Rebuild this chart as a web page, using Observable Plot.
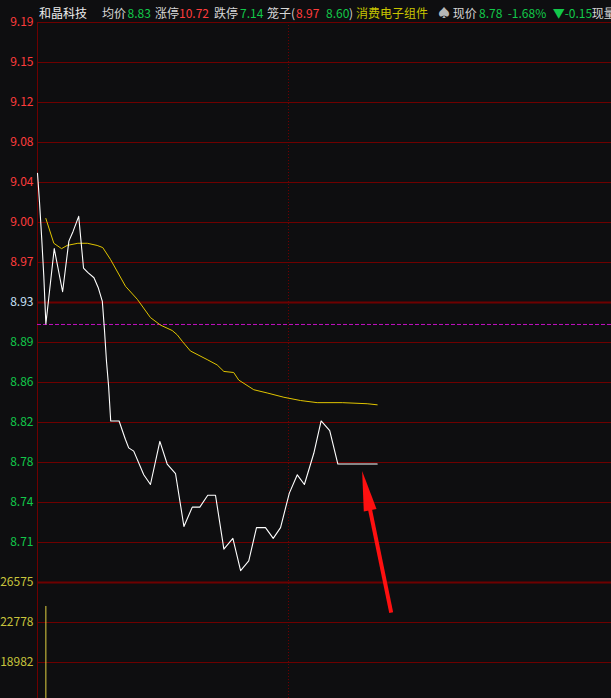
<!DOCTYPE html>
<html><head><meta charset="utf-8">
<script src="https://cdn.jsdelivr.net/npm/d3@7"></script>
<script src="https://cdn.jsdelivr.net/npm/@observablehq/plot@0.6"></script>
<style>
html,body{margin:0;padding:0;background:#0e0e10;}
#wrap{position:relative;width:611px;height:698px;overflow:hidden;background:#0e0e10;font-family:"Noto Sans CJK SC","Noto Sans",sans-serif;}
#wrap svg{position:absolute;left:0;top:0;}
#hdr{position:absolute;left:0;top:0;width:611px;height:23px;font-size:12px;white-space:nowrap;z-index:5;}
#hdr span{position:absolute;top:4px;line-height:17px;}
</style></head><body><div id="wrap"><div id="hdr"></div></div>
<script>
// ---------- data ----------
const prevClose = 8.93;
const priceTickLabels = ["9.19","9.15","9.12","9.08","9.04","9.00","8.97","8.93","8.89","8.86","8.82","8.78","8.74","8.71"];
const volumeTicks = [26575, 22778, 18982];

// minute index (0 = 9:30, 120 = 11:30/13:00) and price
const priceMinutes = [0,1,2,3,4,8,12,15,17,19.7,22,24,27,29,31,32,33,34,35,39,42,43.6,46,50.8,54,58.5,62,66,70,74,77.6,81.4,85.1,89.1,93.4,97.1,101,104.7,109,112.7,116.2,120.4,124.2,127.6,132.1,135.6,139.7,143.6,162.4];
const priceValues  = [9.050,9.022,8.990,8.955,8.910,8.980,8.940,8.987,8.996,9.010,8.962,8.958,8.953,8.944,8.931,8.905,8.875,8.852,8.820,8.820,8.803,8.795,8.792,8.770,8.761,8.801,8.780,8.771,8.722,8.740,8.740,8.751,8.751,8.701,8.711,8.681,8.690,8.721,8.721,8.711,8.721,8.753,8.770,8.761,8.790,8.820,8.811,8.780,8.780];

// average price (yellow)
const avgMinutes = [4,7.8,11.5,14.2,19.3,23.8,28.5,31.2,34.9,42.1,47.7,54,58.8,64.4,66.8,69.2,73.1,81.1,85.9,89.1,93.8,96.2,103.4,109.8,117.8,125.7,133.7,145.7,157.6,162.4];
const avgValues  = [9.008,8.985,8.980,8.983,8.985,8.985,8.983,8.981,8.970,8.945,8.933,8.916,8.909,8.904,8.900,8.894,8.885,8.877,8.872,8.866,8.865,8.858,8.849,8.846,8.842,8.839,8.837,8.837,8.836,8.835];

// visible volume bar(s)
const volumeMinutes = [4];
const volumeValues  = [24300];

// dashed reference line
const costLine = 8.9096;

// red annotation arrow (tail -> tip)
const arrowTail = {t: 169.1, p: 8.642};
const arrowTip  = {t: 155.2, p: 8.7735};

// header
const headerItems = [
  ["和晶科技","name"],["均价","lab"],["8.83","dn"],["涨停","lab"],["10.72","up"],["跌停","lab"],["7.14","dn"],
  ["笼子(","lab"],["8.97","up"],["8.60","dn"],[")","lab"],["消费电子组件","sector"],["♠","icon"],
  ["现价","lab"],["8.78","dn"],["-1.68%","dn"],["▼-0.15","dn"],["现量","lab"]
];

// ---------- layout ----------
const W = 611, H = 698;
const xDomain = [0, 240], xRange = [37, 539];
const priceStep = (9.19 - prevClose) / 7;
const priceDomain = [prevClose - 7 * priceStep, prevClose + 7 * priceStep];
const priceRange = [582, 22];
const volDomain = [15565, 26575], volRange = [698, 582];
const headerX = [39,102,127.5,155,179,214,240,267,296,326,349,356,438,452.7,479,507.7,552.7,591.7];
const colors = {up:"#ff3c3c", dn:"#12c84a", lab:"#d6d6d6", name:"#ececec", sector:"#c8c400", icon:"#b8b8b8", mid:"#c8e0f8"};
const grid = "#6e0000";
const font = '"Noto Sans CJK SC","Noto Sans",sans-serif';

const priceData = priceMinutes.map((t,i)=>({t, p: priceValues[i]}));
const avgData = avgMinutes.map((t,i)=>({t, p: avgValues[i]}));
const volData = volumeMinutes.map((t,i)=>({t, v: volumeValues[i]}));
const priceTicks = priceTickLabels.map((label,i)=>({v: prevClose + (7 - i) * priceStep, label}));
const tickColor = d => Math.abs(d.v - prevClose) < 1e-6 ? colors.mid : (d.v > prevClose ? colors.up : colors.dn);

// arrow geometry (pixel space for head orientation)
const xs = d3.scaleLinear(xDomain, xRange), ys = d3.scaleLinear(priceDomain, priceRange);
const tipX = xs(arrowTip.t), tipY = ys(arrowTip.p), tailX = xs(arrowTail.t), tailY = ys(arrowTail.p);
const ang = Math.atan2(tipX - tailX, -(tipY - tailY)) * 180 / Math.PI;
const len = Math.hypot(tailX - tipX, tailY - tipY);
const shaftEnd = {t: xs.invert(tipX + (tailX - tipX) / len * 30), p: ys.invert(tipY + (tailY - tipY) / len * 30)};
const arrowHead = {draw(ctx){ ctx.moveTo(0,0); ctx.lineTo(-6.5,40); ctx.lineTo(6.5,40); ctx.closePath(); }};

const pricePlot = Plot.plot({
  width: W, height: H,
  marginTop: 22, marginLeft: 37, marginRight: 0, marginBottom: 0,
  style: {background: "transparent", fontFamily: font, fontSize: "12px", overflow: "visible"},
  x: {domain: xDomain, range: xRange, axis: null},
  y: {domain: priceDomain, range: priceRange, axis: null},
  marks: [
    Plot.ruleY(priceTicks, {y: "v", stroke: grid, strokeWidth: d => Math.abs(d.v - prevClose) < 1e-6 ? 2 : 1}),
    Plot.ruleX([0], {stroke: grid, strokeWidth: 1}),
    Plot.ruleX([120], {stroke: grid, strokeWidth: 1, strokeDasharray: "1,2"}),
    Plot.ruleY([costLine], {stroke: "#c010c0", strokeWidth: 1, strokeDasharray: "4,2"}),
    Plot.text(priceTicks, {y: "v", text: "label", frameAnchor: "left", textAnchor: "end", dx: -4, fill: tickColor, fontSize: 12}),
    Plot.line(avgData, {x: "t", y: "p", stroke: "#e0c400", strokeWidth: 1}),
    Plot.line(priceData, {x: "t", y: "p", stroke: "#ffffff", strokeWidth: 1.1}),
    Plot.link([{a: arrowTail, b: shaftEnd}], {x1: d => d.a.t, y1: d => d.a.p, x2: d => d.b.t, y2: d => d.b.p, stroke: "#ff1010", strokeWidth: 4}),
    Plot.dot([arrowTip], {x: "t", y: "p", symbol: arrowHead, rotate: ang, fill: "#ff1010", stroke: "none", r: 3})
  ]
});

const volPlot = Plot.plot({
  width: W, height: H,
  marginTop: 582, marginLeft: 37, marginRight: 0, marginBottom: 0,
  style: {background: "transparent", fontFamily: font, fontSize: "12px", overflow: "visible"},
  x: {domain: xDomain, range: xRange, axis: null},
  y: {domain: volDomain, range: volRange, axis: null},
  marks: [
    Plot.ruleY(volumeTicks, {stroke: grid, strokeWidth: (d, i) => i === 0 ? 2 : 1}),
    Plot.text(volumeTicks, {y: d => d, text: d => String(d), frameAnchor: "left", textAnchor: "end", dx: -4, fill: "#c8c43c", fontSize: 12}),
    Plot.ruleX(volData, {x: "t", y1: volDomain[0], y2: "v", stroke: "#e0d040", strokeWidth: 1})
  ]
});

const wrap = document.getElementById("wrap");
wrap.appendChild(volPlot);
wrap.appendChild(pricePlot);

const hdr = document.getElementById("hdr");
headerItems.forEach(([txt, role], i) => {
  const s = document.createElement("span");
  s.textContent = txt;
  s.style.left = headerX[i] + "px";
  s.style.color = colors[role];
  hdr.appendChild(s);
});
</script>
</body></html>
